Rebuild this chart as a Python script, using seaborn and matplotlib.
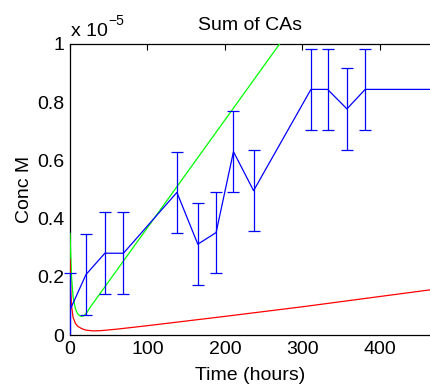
import numpy as np
import pandas as pd
import matplotlib
matplotlib.use("Agg")
import matplotlib.pyplot as plt
import matplotlib.patches as mpatches
import seaborn as sns
from matplotlib.ticker import FuncFormatter

SCALE = 1e-5

# Measured (blue, with error bars)
meas_t = [0, 20.7, 45, 69, 138, 165, 188.6, 211, 237, 311, 332.5, 357.5, 381, 500]
meas_c = [0.086, 0.208, 0.281, 0.281, 0.49, 0.312, 0.352, 0.63, 0.496, 0.844, 0.844, 0.777, 0.844, 0.844]
meas_err = [0.126, 0.14, 0.14, 0.14, 0.14, 0.14, 0.139, 0.14, 0.139, 0.138, 0.138, 0.14, 0.138, 0.0]

# Model curve (green)
green_t = [0, 1, 2, 4, 7, 10, 14, 18, 22, 26, 30, 280]
green_c = [0.35, 0.27, 0.2, 0.13, 0.09, 0.072, 0.064, 0.066, 0.078, 0.095, 0.11, 1.035]

# Model curve (red)
red_t = [0, 0.5, 1, 2, 4, 7, 10, 15, 20, 30, 40, 60, 100, 200, 300, 470]
red_c = [0.26, 0.2, 0.15, 0.1, 0.06, 0.04, 0.03, 0.022, 0.017, 0.014, 0.015, 0.02, 0.032, 0.064, 0.097, 0.157]

sns.set_theme(style="white")
plt.rcParams['font.family'] = ['Liberation Sans', 'DejaVu Sans']
plt.rcParams['font.size'] = 14
plt.rcParams['text.color'] = 'black'
plt.rcParams['axes.labelcolor'] = 'black'

fig = plt.figure(figsize=(4.31, 3.89), dpi=100)
ax = fig.add_axes([70/431, 54/389, 361/431, 291/389])

dm = pd.DataFrame({"t": meas_t, "c": np.array(meas_c) * SCALE, "e": np.array(meas_err) * SCALE})
dg = pd.DataFrame({"t": green_t, "c": np.array(green_c) * SCALE})
dr = pd.DataFrame({"t": red_t, "c": np.array(red_c) * SCALE})

sns.lineplot(data=dg, x="t", y="c", ax=ax, color=(0, 1, 0), lw=0.9, sort=False, estimator=None)
sns.lineplot(data=dr, x="t", y="c", ax=ax, color=(1, 0, 0), lw=0.9, sort=False, estimator=None)
sns.lineplot(data=dm, x="t", y="c", ax=ax, color=(0, 0, 1), lw=0.9, sort=False, estimator=None)
de = dm[dm["e"] > 0]
eb = ax.errorbar(de["t"], de["c"], yerr=de["e"], fmt="none", ecolor=(0, 0, 1), elinewidth=0.9,
                 capsize=4, capthick=0.9, zorder=5)
clip_rect = mpatches.Rectangle((-0.02, 0), 1.04, 1, transform=ax.transAxes, fill=False, visible=False)
ax.add_patch(clip_rect)
for coll in eb.lines[2]:
    coll.set_clip_path(clip_rect)
for ln in eb.lines[1]:
    ln.set_clip_path(clip_rect)

ax.set_xlim(0, 466)
ax.set_ylim(0, 1.0 * SCALE)
ax.set_xticks([0, 100, 200, 300, 400])
ax.set_yticks(np.array([0, 0.2, 0.4, 0.6, 0.8, 1.0]) * SCALE)
ax.yaxis.set_major_formatter(FuncFormatter(lambda v, p: f"{v / SCALE:g}"))
ax.tick_params(direction="in", length=4, width=0.8, top=True, right=False,
               labelsize=14, colors="black", pad=4)
for s in ["left", "bottom", "top"]:
    ax.spines[s].set_color("black")
    ax.spines[s].set_linewidth(0.9)
    ax.spines[s].set_zorder(1)
ax.spines["right"].set_visible(False)

ax.set_xlabel("Time (hours)", fontsize=14, labelpad=7, color="black")
ax.set_ylabel("Conc M", fontsize=14, labelpad=3, color="black")
ax.set_title("Sum of CAs", fontsize=14, pad=10, color="black")

fig.text(71/431, 1 - 36/389, "x 10", fontsize=14, ha="left", va="baseline")
fig.text(108/431, 1 - 25/389, "−5", fontsize=10, ha="left", va="baseline")

fig.savefig("out.png", dpi=100)
